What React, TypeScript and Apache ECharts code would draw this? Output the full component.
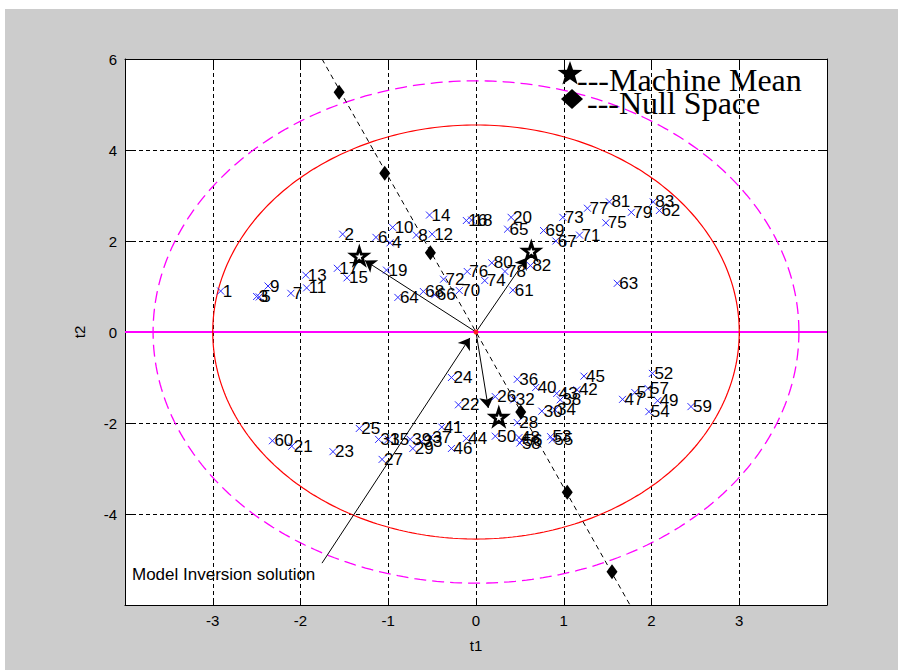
import React, { useEffect, useRef } from "react";
import * as echarts from "echarts";

// ---- data ----
const pointIds = [
  "1","2","3","4","5","6","7","8","9","10","11","12","13","14","15","16","17","18","19","20",
  "21","22","23","24","25","26","27","28","29","30","31","32","33","34","35","36","37","38","39","40",
  "41","42","43","44","45","46","47","48","49","50","51","52","53","54","55","56","57","58","59","60",
  "61","62","63","64","65","66","67","68","69","70","71","72","73","74","75","76","77","78","79","80",
  "81","82","83",
];
const pointT1 = [
  -2.91, -1.52, -2.5, -0.98, -2.47, -1.14, -2.11, -0.68, -2.37, -0.95, -1.93, -0.5, -1.94, -0.53, -1.47, -0.11, -1.58, -0.05, -1.02, 0.4,
  -2.1, -0.2, -1.63, -0.28, -1.33, 0.22, -1.07, 0.47, -0.72, 0.75, -1.11, 0.43, -0.62, 0.9, -1.0, 0.47, -0.52, 0.96, -0.75, 0.68,
  -0.39, 1.15, 0.92, -0.11, 1.23, -0.28, 1.67, 0.49, 2.07, 0.22, 1.81, 2.01, 0.85, 1.97, 0.87, 0.52, 1.96, 0.5, 2.45, -2.32,
  0.42, 2.09, 1.61, -0.89, 0.36, -0.47, 0.91, -0.6, 0.77, -0.19, 1.18, -0.37, 0.99, 0.1, 1.48, -0.1, 1.27, 0.33, 1.77, 0.18,
  1.52, 0.62, 2.02,
];
const pointT2 = [
  0.9, 2.15, 0.78, 1.96, 0.77, 2.08, 0.85, 2.13, 1.01, 2.3, 0.97, 2.15, 1.25, 2.57, 1.19, 2.45, 1.4, 2.46, 1.36, 2.52,
  -2.51, -1.6, -2.63, -1.0, -2.12, -1.42, -2.8, -1.99, -2.56, -1.74, -2.36, -1.49, -2.41, -1.71, -2.36, -1.04, -2.32, -1.49, -2.36, -1.22,
  -2.09, -1.27, -1.35, -2.34, -0.97, -2.56, -1.48, -2.32, -1.51, -2.29, -1.33, -0.91, -2.3, -1.75, -2.37, -2.38, -1.24, -2.44, -1.64, -2.39,
  0.92, 2.67, 1.07, 0.76, 2.26, 0.82, 2.0, 0.89, 2.23, 0.91, 2.13, 1.16, 2.52, 1.13, 2.4, 1.33, 2.72, 1.33, 2.63, 1.52,
  2.86, 1.46, 2.86,
];

const machineMeanT1 = [-1.33, 0.63, 0.26];
const machineMeanT2 = [1.67, 1.78, -1.87];
const arrowTipT1 = [-1.265, 0.58, 0.14];
const arrowTipT2 = [1.57, 1.63, -1.67];

const nullSpaceT1 = [-1.56, -1.04, -0.52, 0.51, 1.04, 1.55];
const nullSpaceT2 = [5.27, 3.49, 1.74, -1.76, -3.52, -5.27];
const nullLineT1 = [-1.755, 1.755];
const nullLineT2 = [6, -6];

const inversionStart = [-1.755, -5.08];
const inversionTip = [-0.07, -0.13];

const innerEllipseRadii = [3, 4.55];
const outerEllipseRadii = [3.68, 5.52];

const xTickLabels = [-3, -2, -1, 0, 1, 2, 3];
const yTickLabels = [-4, -2, 0, 2, 4, 6];

const legendItems = ["---Machine Mean", "---Null Space"];
const annotationText = "Model Inversion solution";

// ---- helpers ----
function ellipse(r: number[]) {
  const pts: number[][] = [];
  for (let i = 0; i <= 360; i++) {
    const t = (i * Math.PI) / 180;
    pts.push([r[0] * Math.cos(t), r[1] * Math.sin(t)]);
  }
  return pts;
}

const STAR_PATH =
  "path://M50,0 L61.8,35.1 L98.1,35.1 L68.6,56.7 L79.4,91.3 L50,70 L20.6,91.3 L31.4,56.7 L1.9,35.1 L38.2,35.1 Z";
const X_PATH = "path://M0,0 L10,10 M10,0 L0,10";

function starPoints(cx: number, cy: number, R: number, r: number) {
  const pts: number[][] = [];
  for (let i = 0; i < 10; i++) {
    const rad = i % 2 === 0 ? R : r;
    const a = -Math.PI / 2 + (i * Math.PI) / 5;
    pts.push([cx + rad * Math.cos(a), cy + rad * Math.sin(a)]);
  }
  return pts;
}

const SANS = "Liberation Sans, Arial, sans-serif";
const SERIF = "Liberation Serif, Times New Roman, serif";

export default function App() {
  const ref = useRef<HTMLDivElement>(null);

  useEffect(() => {
    if (!ref.current) return;
    const chart = echarts.init(ref.current, undefined, { renderer: "svg" });

    const axisCommon = {
      type: "value" as const,
      axisLine: { show: true, onZero: false, lineStyle: { color: "#000", width: 1 } },
      axisTick: { show: true, inside: true, length: 7, lineStyle: { color: "#000" } },
    };

    const option: any = {
      animation: false,
      backgroundColor: "transparent",
      grid: {
        left: 125,
        top: 59,
        width: 702,
        height: 546,
        show: true,
        backgroundColor: "#fff",
        borderWidth: 0,
      },
      xAxis: [
        {
          ...axisCommon,
          min: -4,
          max: 4,
          interval: 1,
          position: "bottom",
          axisLabel: {
            color: "#000",
            fontSize: 15,
            fontFamily: SANS,
            margin: 8,
            formatter: (v: number) => (xTickLabels.includes(v) ? String(v) : ""),
          },
          splitLine: { show: true, lineStyle: { color: "#000", type: [4, 3], width: 1 } },
          name: "t1",
          nameLocation: "middle",
          nameGap: 33,
          nameTextStyle: { color: "#000", fontSize: 15, fontFamily: SANS },
        },
        {
          ...axisCommon,
          min: -4,
          max: 4,
          interval: 1,
          position: "top",
          axisLabel: { show: false },
          splitLine: { show: false },
        },
      ],
      yAxis: [
        {
          ...axisCommon,
          min: -6,
          max: 6,
          interval: 2,
          position: "left",
          axisLabel: {
            color: "#000",
            fontSize: 15,
            fontFamily: SANS,
            margin: 8,
            formatter: (v: number) => (yTickLabels.includes(v) ? String(v) : ""),
          },
          splitLine: { show: true, lineStyle: { color: "#000", type: [4, 3], width: 1 } },
          name: "t2",
          nameLocation: "middle",
          nameGap: 38,
          nameRotate: 90,
          nameTextStyle: { color: "#000", fontSize: 15, fontFamily: SANS },
        },
        {
          ...axisCommon,
          min: -6,
          max: 6,
          interval: 2,
          position: "right",
          axisLabel: { show: false },
          splitLine: { show: false },
        },
      ],
      series: [
        {
          type: "line",
          data: [
            [-4, 0],
            [4, 0],
          ],
          showSymbol: false,
          silent: true,
          lineStyle: { color: "#ff00ff", width: 2 },
          z: 2,
        },
        {
          type: "line",
          data: ellipse(outerEllipseRadii),
          showSymbol: false,
          silent: true,
          smooth: false,
          lineStyle: { color: "#ff00ff", width: 1.3, type: [12, 6] },
          z: 2,
        },
        {
          type: "line",
          data: ellipse(innerEllipseRadii),
          showSymbol: false,
          silent: true,
          lineStyle: { color: "#ff0000", width: 1.2 },
          z: 2,
        },
        {
          type: "line",
          data: nullLineT1.map((x, i) => [x, nullLineT2[i]]),
          showSymbol: false,
          silent: true,
          lineStyle: { color: "#000", width: 1, type: [5, 4] },
          z: 3,
        },
        {
          type: "lines",
          coordinateSystem: "cartesian2d",
          symbol: ["none", "arrow"],
          symbolSize: 11,
          silent: true,
          lineStyle: { color: "#000", width: 1, opacity: 1, curveness: 0 },
          data: [
            ...arrowTipT1.map((x, i) => ({ coords: [[0, 0], [x, arrowTipT2[i]]] })),
            { coords: [inversionStart, inversionTip] },
          ],
          z: 4,
        },
        {
          type: "scatter",
          data: pointIds.map((id, i) => ({ name: id, value: [pointT1[i], pointT2[i]] })),
          symbol: X_PATH,
          symbolSize: 7,
          itemStyle: { color: "rgba(0,0,0,0)", borderColor: "#2a2aff", borderWidth: 1, opacity: 1 },
          label: {
            show: true,
            position: "right",
            distance: -2,
            formatter: "{b}",
            color: "#000",
            fontSize: 17,
            fontFamily: SANS,
          },
          silent: true,
          z: 5,
        },
        {
          type: "scatter",
          data: nullSpaceT1.map((x, i) => [x, nullSpaceT2[i]]),
          symbol: "diamond",
          symbolSize: [11, 15],
          itemStyle: { color: "#000", opacity: 1 },
          silent: true,
          z: 6,
        },
        {
          type: "scatter",
          data: machineMeanT1.map((x, i) => [x, machineMeanT2[i]]),
          symbol: STAR_PATH,
          symbolSize: 16,
          itemStyle: { color: "#fff", borderColor: "#000", borderWidth: 2.8, opacity: 1 },
          silent: true,
          z: 7,
        },
        {
          type: "scatter",
          data: [[0, 0]],
          symbol: "circle",
          symbolSize: 5,
          itemStyle: { color: "#ff2020", opacity: 1 },
          silent: true,
          z: 7,
        },
      ],
      graphic: [
        {
          type: "polygon",
          shape: { points: starPoints(570, 74, 13, 5.2) },
          style: { fill: "#000" },
          z: 100,
        },
        {
          type: "polygon",
          shape: {
            points: [
              [572, 89],
              [583, 99],
              [572, 109],
              [561, 99],
            ],
          },
          style: { fill: "#000" },
          z: 100,
        },
        {
          type: "text",
          x: 577,
          y: 80,
          style: {
            text: legendItems[0],
            font: `32px ${SERIF}`,
            fill: "#000",
            textAlign: "left",
            textVerticalAlign: "middle",
          },
          z: 100,
        },
        {
          type: "text",
          x: 587,
          y: 103,
          style: {
            text: legendItems[1],
            font: `32px ${SERIF}`,
            fill: "#000",
            textAlign: "left",
            textVerticalAlign: "middle",
          },
          z: 100,
        },
        {
          type: "text",
          x: 132,
          y: 574,
          style: {
            text: annotationText,
            font: `17px ${SANS}`,
            fill: "#000",
            textAlign: "left",
            textVerticalAlign: "middle",
          },
          z: 100,
        },
      ],
    };

    chart.setOption(option);
    return () => chart.dispose();
  }, []);

  return (
    <div style={{ position: "fixed", left: 0, top: 0, width: 898, height: 670, background: "#fff" }}>
      <div style={{ position: "absolute", left: 5, top: 9, width: 893, height: 661, background: "#cccccc" }} />
      <div ref={ref} style={{ position: "absolute", left: 0, top: 0, width: 898, height: 670 }} />
    </div>
  );
}
